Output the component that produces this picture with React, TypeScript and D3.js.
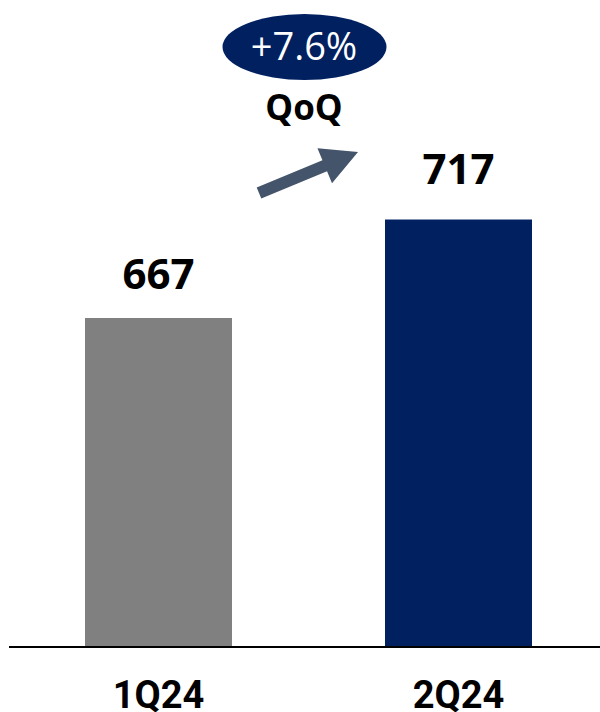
import React from "react";
import * as d3 from "d3";

const categories = ["1Q24", "2Q24"];
const values = [667, 717];
const valueLabels = ["667", "717"];
const barColors = ["#808080", "#002060"];
const growthLabel = "+7.6%";
const growthSub = "QoQ";

const W = 600;
const H = 712;

export default function App() {
  const x = d3.scaleBand<string>().domain(categories).range([8.5, 608.5]).paddingInner(0.51).paddingOuter(0.255);
  const y = d3.scaleLinear().domain([500, 800]).range([647, 647 - 300 * 1.97]);
  const labelOffsets = [29, 36];

  // arrow geometry
  const tail: [number, number] = [259, 193];
  const tip: [number, number] = [358, 152];
  const dx = tip[0] - tail[0];
  const dy = tip[1] - tail[1];
  const len = Math.hypot(dx, dy);
  const ux = dx / len, uy = dy / len;
  const px = -uy, py = ux;
  const shaftHalf = 6;
  const headLen = 36;
  const headHalf = 19;
  const bx = tip[0] - ux * headLen, by = tip[1] - uy * headLen;
  const pts: [number, number][] = [
    [tail[0] + px * shaftHalf, tail[1] + py * shaftHalf],
    [bx + px * shaftHalf, by + py * shaftHalf],
    [bx + px * headHalf, by + py * headHalf],
    tip,
    [bx - px * headHalf, by - py * headHalf],
    [bx - px * shaftHalf, by - py * shaftHalf],
    [tail[0] - px * shaftHalf, tail[1] - py * shaftHalf],
  ];
  const arrowPath = d3.line()(pts) + "Z";

  return (
    <svg width={W} height={H} style={{ position: "absolute", left: 0, top: 0 }}>
      <rect width={W} height={H} fill="#fff" />
      {categories.map((c, i) => (
        <g key={c}>
          <rect x={x(c)} y={y(values[i])} width={x.bandwidth()} height={y(500) - y(values[i])} fill={barColors[i]} />
          <text
            x={(x(c) as number) + x.bandwidth() / 2}
            y={y(values[i]) - labelOffsets[i]}
            textAnchor="middle"
            fontFamily="'Open Sans', sans-serif"
            fontWeight={700}
            fontSize={42}
            fill="#000"
          >
            {valueLabels[i]}
          </text>
          <text
            x={(x(c) as number) + x.bandwidth() / 2}
            y={708}
            textAnchor="middle"
            fontFamily="Roboto, sans-serif"
            fontWeight={700}
            fontSize={38}
            fill="#000"
          >
            {c}
          </text>
        </g>
      ))}
      <line x1={9} x2={600} y1={647} y2={647} stroke="#000" strokeWidth={2} />
      <ellipse cx={304.5} cy={47} rx={82} ry={33} fill="#002060" />
      <text x={304} y={60} textAnchor="middle" fontFamily="'Open Sans', sans-serif" fontSize={38} fill="#fff">
        {growthLabel}
      </text>
      <text x={304} y={120} textAnchor="middle" fontFamily="'Open Sans', sans-serif" fontWeight={700} fontSize={35} fill="#000">
        {growthSub}
      </text>
      <path d={arrowPath} fill="#44546A" />
    </svg>
  );
}
